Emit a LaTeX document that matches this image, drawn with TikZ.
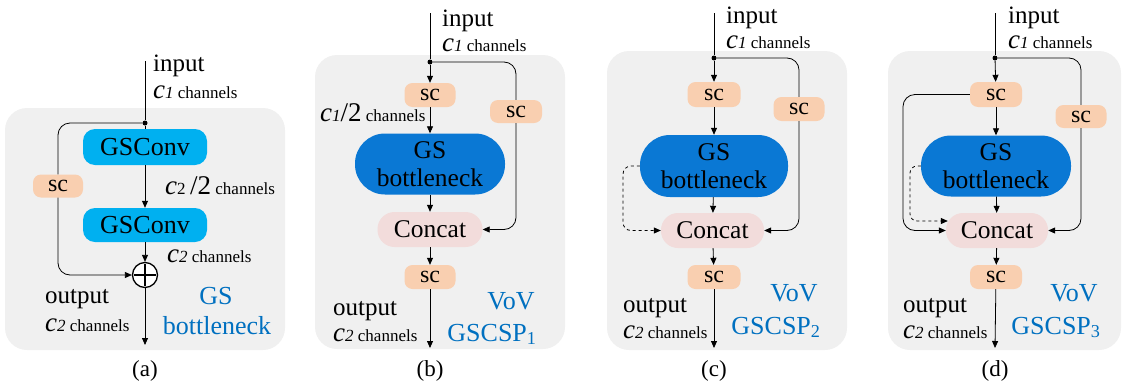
\documentclass[tikz,border=0pt]{standalone}
\usepackage{fontspec}
\setmainfont{Liberation Serif}
\usetikzlibrary{arrows.meta,calc}
\definecolor{bgg}{HTML}{F0F0F0}
\definecolor{gscyan}{HTML}{00B0F0}
\definecolor{gsblue}{HTML}{0A78D4}
\definecolor{cpink}{HTML}{F2DCDB}
\definecolor{scpeach}{HTML}{F9CFB0}
\definecolor{txtblue}{HTML}{0070C0}
\newcommand{\cvar}{{\fontsize{27}{27}\selectfont\itshape c}}
\newcommand{\chs}[1]{{\fontsize{17}{17}\selectfont #1}}
\begin{document}
\begin{tikzpicture}[x=1pt,y=-1pt,
  bgbox/.style={fill=bgg, rounded corners=22pt},
  gsconv/.style={fill=gscyan, rounded corners=12pt, minimum width=124pt, minimum height=36pt, inner sep=0pt, font=\fontsize{26}{26}\selectfont},
  gsb/.style={fill=gsblue, rounded corners=30pt, minimum width=150pt, minimum height=61pt, align=center, inner sep=0pt, font=\fontsize{25.5}{28}\selectfont},
  concat/.style={fill=cpink, rounded corners=17pt, minimum width=105pt, minimum height=35pt, inner sep=0pt, font=\fontsize{25.5}{25.5}\selectfont},
  scbox/.style={fill=scpeach, rounded corners=8pt, minimum width=51pt, minimum height=24pt, inner sep=0pt, font=\fontsize{24}{24}\selectfont},
  ln/.style={line width=0.8pt},
  arr/.style={ln, -{Triangle[length=7pt,width=6pt]}},
  jdot/.style={circle, fill, inner sep=0pt, minimum size=5pt},
  lbl/.style={inner sep=0pt, anchor=base west, font=\fontsize{25}{25}\selectfont},
  bl/.style={inner sep=0pt, anchor=base, text=txtblue, font=\fontsize{26}{26}\selectfont},
  captxt/.style={inner sep=0pt, anchor=base, font=\fontsize{23}{23}\selectfont}]
\useasboundingbox (0,0) rectangle (1123,383);

% ---------------- (a)
\fill[bgbox] (5,108) rectangle (285,350);
\node[gsconv] (g1) at (145,147) {GSConv};
\node[gsconv, minimum height=34pt] (g2) at (145,225) {GSConv};
\node[circle, draw, fill=white, line width=1.3pt, minimum size=25pt, inner sep=0pt] (pl) at (145,275) {};
\draw[line width=2.6pt] ($(pl.west)+(2.5,0)$) -- ($(pl.east)+(-2.5,0)$);
\draw[line width=2.6pt] ($(pl.north)+(0,2.5)$) -- ($(pl.south)+(0,-2.5)$);
\node[scbox, minimum width=50pt, minimum height=23pt] (sa) at (58,186) {sc};
\node[jdot] (da) at (145,123) {};
\coordinate (ina) at (145,61);
\coordinate (outa) at (145,345);
\draw[ln] (ina) -- (da) -- (g1.north);
\draw[arr] (g1) -- (g2);
\draw[arr] (g2) -- (pl);
\draw[arr] (pl) -- (outa);
\draw[ln, rounded corners=12pt] (da) -| (sa.north);
\draw[arr, rounded corners=12pt] (sa.south) |- (pl.west);
\node[lbl] (ia) at (153,71) {input};
\node[lbl] (ca) at (153,98) {\cvar\chs{\itshape 1 \upshape channels}};
\node[lbl] (cha) at (165,194) {\cvar\chs{2}{\fontsize{27}{27}\selectfont\,/2}\chs{ channels}};
\node[lbl] (cb2a) at (167,262) {\cvar\chs{\itshape 2 \upshape channels}};
\node[lbl] (oa) at (45,303) {output};
\node[lbl] (coa) at (45,331) {\cvar\chs{\itshape 2 \upshape channels}};
\node[bl] (ba1) at (216,304) {GS};
\node[bl] (ba2) at (217,334) {bottleneck};
\node[captxt] (capa) at (145,376) {(a)};

% ---------------- (b)
\fill[bgbox] (315,55) rectangle (565,349);
\node[jdot] (db) at (430,62) {};
\node[scbox] (sb1) at (430,95) {sc};
\node[gsb] (gb) at (430,164) {GS\\bottleneck};
\node[concat] (cb) at (430,229.5) {Concat};
\node[scbox] (sb2) at (430,277) {sc};
\node[scbox, minimum width=52pt, minimum height=23pt] (sbr) at (516,111.5) {sc};
\coordinate (inb) at (430,13);
\coordinate (outb) at (430,348);
\draw[ln] (inb) -- (db);
\draw[arr] (db) -- (sb1);
\draw[arr] (sb1) -- (gb);
\draw[arr] (gb) -- (cb);
\draw[arr] (cb) -- (sb2);
\draw[arr] (sb2) -- (outb);
\draw[ln, rounded corners=12pt] (db) -| (sbr.north);
\draw[arr, rounded corners=12pt] (sbr.south) |- (cb.east);
\node[lbl] (ib) at (442,26) {input};
\node[lbl] (cib) at (442,51) {\cvar\chs{\itshape 1 \upshape channels}};
\node[lbl] (chb) at (320,121) {\cvar\chs{\itshape 1}{\fontsize{27}{27}\selectfont/2}\chs{ channels}};
\node[lbl] (ob) at (333,315) {output};
\node[lbl] (cob) at (333,341) {\cvar\chs{\itshape 2 \upshape channels}};
\node[bl] (bb1) at (511,309) {VoV};
\node[bl] (bb2) at (492,341) {GSCSP\textsubscript{1}};
\node[captxt] (capb) at (430,376) {(b)};

% ---------------- (c)
\fill[bgbox] (607,51) rectangle (847,350);
\node[jdot] (dc) at (714,58) {};
\node[scbox, minimum width=53pt, minimum height=25pt] (sc1) at (714,94.5) {sc};
\node[gsb, minimum width=148pt, minimum height=62pt] (gc) at (714,166) {GS\\bottleneck};
\node[concat, minimum width=103pt] (cc) at (712.5,230.5) {Concat};
\node[scbox, minimum width=53pt] (sc2) at (714,277) {sc};
\node[scbox] (scr) at (799,109) {sc};
\coordinate (inc) at (714,13);
\coordinate (outc) at (714,348);
\coordinate (dashc) at (623,230.5);
\draw[ln] (inc) -- (dc);
\draw[arr] (dc) -- (sc1);
\draw[arr] (sc1) -- (gc);
\draw[arr] (gc) -- (cc);
\draw[arr] (cc) -- (sc2);
\draw[arr] (sc2) -- (outc);
\draw[ln, rounded corners=12pt] (dc) -| (scr.north);
\draw[arr, rounded corners=12pt] (scr.south) |- (cc.east);
\draw[arr, dashed, rounded corners=8pt] (gc.west) -| (dashc) -- (cc.west);
\node[lbl] (ic) at (726,23) {input};
\node[lbl] (cic) at (726,48) {\cvar\chs{\itshape 1 \upshape channels}};
\node[lbl] (oc) at (623,312) {output};
\node[lbl] (coc) at (623,338) {\cvar\chs{\itshape 2 \upshape channels}};
\node[bl] (bc1) at (794,301) {VoV};
\node[bl] (bc2) at (776,334) {GSCSP\textsubscript{2}};
\node[captxt] (capc) at (714,376) {(c)};

% ---------------- (d)
\fill[bgbox] (888,51) rectangle (1121,350);
\node[jdot] (dd) at (995,58) {};
\node[scbox, minimum width=52pt, minimum height=25pt] (sd1) at (996,94.5) {sc};
\node[gsb] (gd) at (996,166) {GS\\bottleneck};
\node[concat, minimum width=102pt] (cd) at (997,230.5) {Concat};
\node[scbox, minimum width=52pt] (sd2) at (996,277) {sc};
\node[scbox, minimum height=23pt] (sdr) at (1081,116.5) {sc};
\coordinate (ind) at (995,13);
\coordinate (outd) at (995,348);
\coordinate (leftd) at (903,230.5);
\coordinate (dashd) at (910,221);
\draw[ln] (ind) -- (dd);
\draw[arr] (dd) -- (sd1);
\draw[arr] (sd1) -- (gd);
\draw[arr] (gd) -- (cd);
\draw[arr] (cd) -- (sd2);
\draw[arr] (sd2) -- (outd);
\draw[ln, rounded corners=12pt] (dd) -| (sdr.north);
\draw[arr, rounded corners=12pt] (sdr.south) |- (cd.east);
\draw[arr, rounded corners=12pt] (sd1.west) -| (leftd) -- (cd.west);
\draw[arr, dashed, rounded corners=7pt] (gd.west) -| (dashd) -- ($(cd.west |- dashd)+(2,0)$);
\node[lbl] (id) at (1008,23) {input};
\node[lbl] (cid) at (1008,48) {\cvar\chs{\itshape 1 \upshape channels}};
\node[lbl] (od) at (903,312) {output};
\node[lbl] (cod) at (903,338) {\cvar\chs{\itshape 2 \upshape channels}};
\node[bl] (bd1) at (1074,301) {VoV};
\node[bl] (bd2) at (1056,334) {GSCSP\textsubscript{3}};
\node[captxt] (capd) at (995,376) {(d)};
\end{tikzpicture}
\end{document}
